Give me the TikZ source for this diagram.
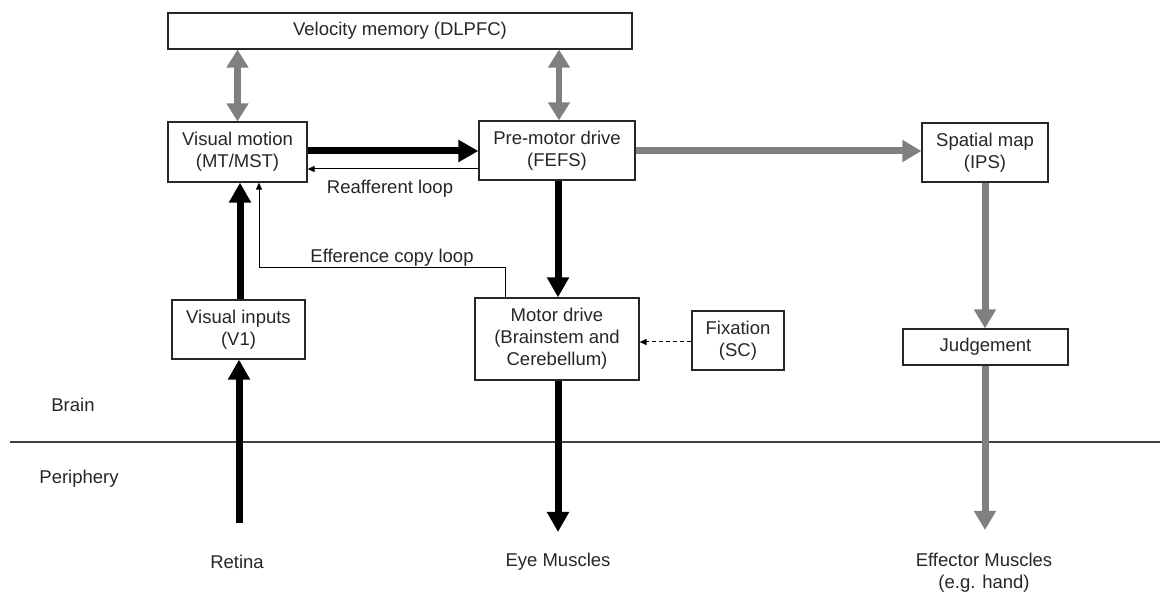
\documentclass[tikz,border=0pt]{standalone}
\usepackage{fontspec}
\setmainfont{Liberation Sans}
\usetikzlibrary{arrows.meta,calc}
\begin{document}
\begin{tikzpicture}[x=1pt,y=-1pt,
  font=\fontsize{18.5}{22}\selectfont,
  box/.style={draw=black!85,line width=1.2pt,align=center,inner sep=0pt,text=black!85},
  lbl/.style={align=center,inner sep=0pt,text=black!85},
  thickarr/.style={line width=7pt,black,-{Triangle[length=20pt,width=21pt]}},
  greyarr/.style={line width=7pt,gray,-{Triangle[length=19pt,width=21pt]}},
  greydbl/.style={line width=6.5pt,gray,{Triangle[length=18pt,width=21pt]}-{Triangle[length=18pt,width=21pt]}},
  thinarr/.style={line width=1pt,black,-{Triangle[length=7pt,width=6pt]}},
  dasharr/.style={line width=1pt,black,dash pattern=on 4pt off 3pt,-{Triangle[length=7pt,width=6pt]}}
]
\useasboundingbox (0,0) rectangle (1160,593);

% boxes
\node[box,minimum width=464pt,minimum height=36pt] (vel) at (400,31) {Velocity memory (DLPFC)};
\node[box,minimum width=139pt,minimum height=60pt] (vm) at (237.5,152) {Visual motion\\(MT/MST)};
\node[box,minimum width=156pt,minimum height=59pt] (pm) at (557,150.5) {Pre-motor drive\\(FEFS)};
\node[box,minimum width=126pt,minimum height=59pt] (sm) at (985,152.5) {Spatial map\\(IPS)};
\node[box,minimum width=133pt,minimum height=59pt] (vi) at (238.5,329.5) {Visual inputs\\(V1)};
\node[box,minimum width=164pt,minimum height=82pt] (md) at (557,339) {Motor drive\\(Brainstem and\\Cerebellum)};
\node[box,minimum width=92pt,minimum height=59pt] (fx) at (738,340.5) {Fixation\\(SC)};
\node[box,minimum width=165pt,minimum height=36pt] (jd) at (985.5,347) {Judgement};

% labels
\node[lbl] (brain) at (73,405) {Brain};
\node[lbl] (periph) at (79,479) {Periphery};
\node[lbl] (retina) at (237,562) {Retina};
\node[lbl] (eye) at (558,562) {Eye Muscles};
\node[lbl] (eff) at (984,573) {Effector Muscles\\(e.g. hand)};
\node[lbl] (reaff) at (390,189) {Reafferent loop};
\node[lbl] (effcopy) at (392,258) {Efference copy loop};

% coordinates
\coordinate (retinaend) at (239,523);
\coordinate (eyeend) at (558,532);
\coordinate (effend) at (985,530);
\coordinate (e1) at (505,268);
\coordinate (e2) at (259,268);
\coordinate (divL) at (10,442);
\coordinate (divR) at (1160,442);

% divider
\draw[line width=1.2pt,black!75] (divL) -- (divR);

% grey double arrows
\draw[greydbl] (vm.north) -- (vm.north |- vel.south);
\draw[greydbl] (pm.north -| 559,0) -- (vel.south -| 559,0);

% black thick arrows
\draw[thickarr] (vm.east |- 0,151) -- (pm.west |- 0,151);
\draw[thickarr] (vi.north -| 240,0) -- (vm.south -| 240,0);
\draw[thickarr] (retinaend) -- (vi.south -| retinaend);
\draw[thickarr] (pm.south -| 558,0) -- (md.north -| 558,0);
\draw[thickarr] (md.south -| eyeend) -- (eyeend);

% grey arrows
\draw[greyarr] (pm.east |- 0,151) -- (sm.west |- 0,151);
\draw[greyarr] (sm.south) -- (jd.north -| sm.south);
\draw[greyarr] (jd.south -| effend) -- (effend);

% thin loops
\draw[thinarr] (pm.west |- 0,169) -- (vm.east |- 0,169);
\draw[thinarr] (md.north -| e1) -- (e1) -- (e2) -- (e2 |- vm.south);
\draw[dasharr] (fx.west |- 0,342) -- (md.east |- 0,342);
\end{tikzpicture}
\end{document}
